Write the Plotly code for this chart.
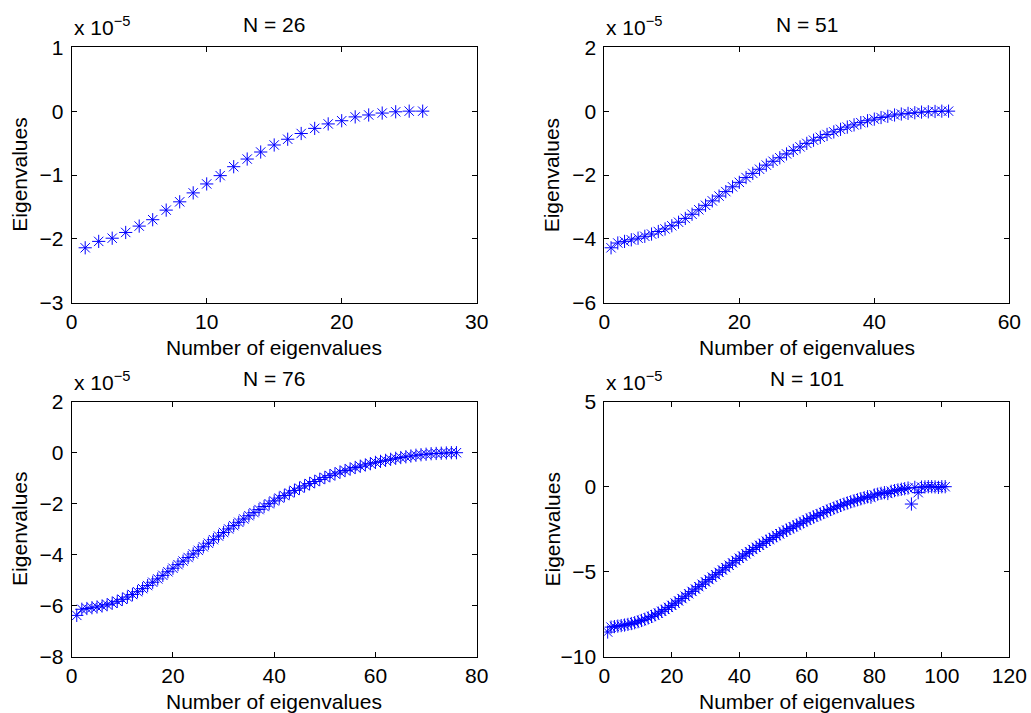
import plotly.graph_objects as go

# Eigenvalues (in units of 1e-5) for each grid size N, ordered by index
eig_26 = [-2.14, -2.04, -1.99, -1.90, -1.80, -1.70, -1.55, -1.42, -1.28, -1.14,
          -1.01, -0.87, -0.75, -0.64, -0.53, -0.44, -0.35, -0.27, -0.20, -0.15,
          -0.09, -0.06, -0.03, -0.01, 0.00, 0.00]

eig_51 = [-4.28, -4.13, -4.08, -4.03, -3.98, -3.92, -3.85, -3.77, -3.69, -3.59,
          -3.48, -3.36, -3.23, -3.09, -2.95, -2.81, -2.66, -2.52, -2.37, -2.23,
          -2.08, -1.95, -1.82, -1.69, -1.57, -1.46, -1.34, -1.23, -1.12, -1.01,
          -0.91, -0.82, -0.73, -0.65, -0.57, -0.50, -0.43, -0.36, -0.30, -0.25,
          -0.20, -0.16, -0.12, -0.09, -0.07, -0.05, -0.03, -0.02, -0.01, 0.00,
          0.00]

eig_76 = [-6.38, -6.14, -6.11, -6.08, -6.05, -6.01, -5.96, -5.90, -5.83, -5.75,
          -5.66, -5.56, -5.45, -5.33, -5.21, -5.08, -4.95, -4.81, -4.67, -4.53,
          -4.39, -4.25, -4.11, -3.97, -3.83, -3.69, -3.55, -3.41, -3.27, -3.13,
          -2.99, -2.86, -2.73, -2.60, -2.47, -2.35, -2.23, -2.11, -2.00, -1.89,
          -1.78, -1.68, -1.58, -1.48, -1.39, -1.30, -1.21, -1.13, -1.05, -0.97,
          -0.90, -0.83, -0.76, -0.70, -0.64, -0.58, -0.53, -0.48, -0.43, -0.38,
          -0.34, -0.30, -0.26, -0.22, -0.19, -0.16, -0.13, -0.10, -0.08, -0.06,
          -0.04, -0.03, -0.02, -0.01, 0.00, 0.00]

eig_101 = [-8.55, -8.26, -8.23, -8.20, -8.17, -8.14, -8.10, -8.05, -8.00, -7.94,
           -7.87, -7.80, -7.72, -7.63, -7.54, -7.44, -7.33, -7.22, -7.10, -6.98,
           -6.85, -6.72, -6.58, -6.44, -6.30, -6.16, -6.02, -5.88, -5.74, -5.60,
           -5.46, -5.32, -5.18, -5.04, -4.90, -4.76, -4.62, -4.48, -4.34, -4.21,
           -4.08, -3.95, -3.82, -3.69, -3.57, -3.45, -3.33, -3.21, -3.10, -2.99,
           -2.88, -2.77, -2.66, -2.56, -2.46, -2.36, -2.26, -2.16, -2.07, -1.96,
           -1.87, -1.78, -1.69, -1.60, -1.52, -1.42, -1.34, -1.26, -1.18, -1.10,
           -1.03, -0.96, -0.89, -0.83, -0.77, -0.71, -0.65, -0.59, -0.62, -0.49,
           -0.44, -0.39, -0.35, -0.40, -0.27, -0.23, -0.19, -0.15, -0.12, -0.08,
           -1.02, -0.04, -0.35, -0.02, -0.01, 0.00, 0.00, -0.01, -0.04, 0.00,
           0.00]

series = [eig_26, eig_51, eig_76, eig_101]
titles = ["N = 26", "N = 51", "N = 76", "N = 101"]
x_ranges = [[0, 30], [0, 60], [0, 80], [0, 120]]
x_dticks = [10, 20, 20, 20]
y_ranges = [[-3, 1], [-6, 2], [-8, 2], [-10, 5]]
y_dticks = [1, 2, 2, 5]

W, H = 1031, 713
FONT = "Liberation Sans, Arial, Helvetica, sans-serif"
FS = 21

# panel boxes in pixels: (left, right, top, bottom)
boxes = [(71.7, 476.7, 47.3, 302.7), (604.3, 1009.3, 47.3, 302.7),
         (71.7, 476.7, 401.7, 656.7), (604.3, 1009.3, 401.7, 656.7)]

fig = go.Figure()
annotations = []

for i, vals in enumerate(series):
    n = i + 1
    xa = "x" if n == 1 else f"x{n}"
    ya = "y" if n == 1 else f"y{n}"
    idx = list(range(1, len(vals) + 1))
    fig.add_trace(go.Scatter(
        x=idx, y=vals, mode="markers", xaxis=xa, yaxis=ya,
        marker=dict(symbol="asterisk-open", size=11, color="rgb(0,0,255)",
                    line=dict(color="rgb(0,0,255)", width=1)),
        showlegend=False, hoverinfo="x+y",
    ))
    l, r, t, b = boxes[i]
    xdom = [l / W, r / W]
    ydom = [(H - b) / H, (H - t) / H]
    axis_common = dict(showline=True, linecolor="black", linewidth=1,
                       mirror="ticks", ticks="inside", ticklen=5,
                       tickcolor="black", showgrid=False, zeroline=False,
                       automargin=False,
                       tickfont=dict(family=FONT, size=FS, color="black"))
    fig.layout[("xaxis" if n == 1 else f"xaxis{n}")] = dict(
        domain=xdom, range=x_ranges[i], dtick=x_dticks[i], tick0=0,
        anchor=ya, **axis_common)
    fig.layout[("yaxis" if n == 1 else f"yaxis{n}")] = dict(
        domain=ydom, range=y_ranges[i], dtick=y_dticks[i], tick0=0,
        anchor=xa, ticklabelstandoff=3, **axis_common)

    cx = (l + r) / 2
    # panel title
    annotations.append(dict(text=titles[i], x=cx / W, y=(H - (t - 23)) / H,
                            xref="paper", yref="paper", showarrow=False,
                            xanchor="center", yanchor="middle",
                            font=dict(family=FONT, size=FS, color="black")))
    # x-axis label
    annotations.append(dict(text="Number of eigenvalues", x=cx / W,
                            y=(H - (b + 45)) / H, xref="paper", yref="paper",
                            showarrow=False, xanchor="center", yanchor="middle",
                            font=dict(family=FONT, size=FS, color="black")))
    # y-axis label
    annotations.append(dict(text="Eigenvalues", x=(l - 52) / W,
                            y=(H - (t + b) / 2) / H, xref="paper", yref="paper",
                            showarrow=False, textangle=-90,
                            xanchor="center", yanchor="middle",
                            font=dict(family=FONT, size=FS, color="black")))
    # exponent multiplier
    annotations.append(dict(text="x 10<sup>\u22125</sup>", x=l / W,
                            y=(H - (t - 6)) / H, xref="paper", yref="paper",
                            showarrow=False, xanchor="left", yanchor="bottom",
                            font=dict(family=FONT, size=FS, color="black")))

fig.update_layout(
    width=W, height=H, margin=dict(l=0, r=0, t=0, b=0),
    paper_bgcolor="white", plot_bgcolor="white",
    annotations=annotations,
)

fig.write_html("out.html")
